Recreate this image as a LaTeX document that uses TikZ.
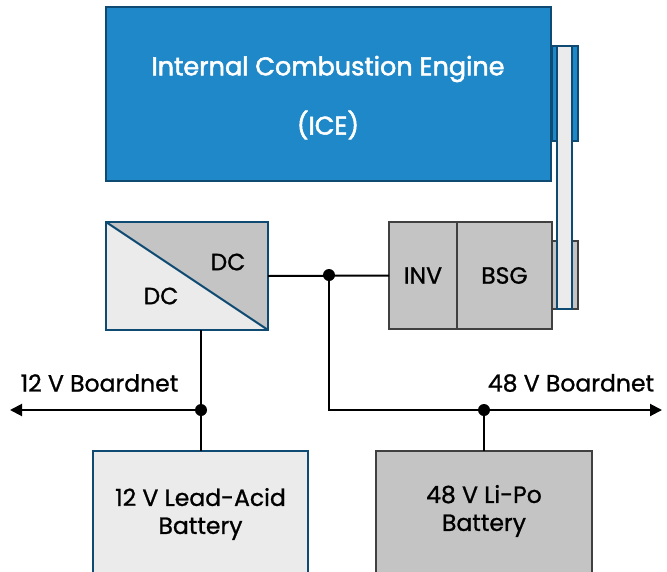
\documentclass[tikz,border=0pt]{standalone}
\usepackage{fontspec}
\setmainfont{Poppins}
\newfontfamily\diagfont{Poppins}[FakeBold=1]
\newfontfamily\icefont{Poppins}[FakeBold=2]
\usetikzlibrary{positioning, arrows.meta}

\definecolor{iceblue}{HTML}{1E88C8}
\definecolor{darkblue}{HTML}{0E4A72}
\definecolor{midgray}{HTML}{C4C4C4}
\definecolor{lightgray}{HTML}{EBEBEB}
\definecolor{darkgray}{HTML}{404040}

\tikzset{
    block/.style={draw, line width=2pt, inner sep=0pt, outer sep=0pt, anchor=north west, align=center, font=\diagfont\fontsize{23.5}{28}\selectfont},
    blueblock/.style={block, draw=darkblue, fill=iceblue},
    grayblock/.style={block, draw=darkgray, fill=midgray},
    lightblock/.style={block, draw=darkblue, fill=lightgray},
    wire/.style={line width=2pt, black},
    dot/.style={circle, fill=black, inner sep=0pt, minimum size=12pt},
    label/.style={font=\diagfont\fontsize{23.5}{28}\selectfont},
    icelabel/.style={font=\icefont\fontsize{25.5}{30}\selectfont, text=white}
}

\begin{document}
\begin{tikzpicture}[x=1pt, y=-1pt]
    \clip (0,0) rectangle (667,571);
    \useasboundingbox (0,0) rectangle (667,571);

    % Engine and belt drive
    \node[blueblock, minimum width=445pt, minimum height=174pt] (ice) at (106,7) {};
    \node[icelabel] (icename) at (328,69) {Internal Combustion Engine};
    \node[icelabel] (iceabbr) at (328,125) {(ICE)};
    \node[blueblock, minimum width=26pt, minimum height=95pt] (icepulley) at (552,46) {};
    \node[grayblock, minimum width=26pt, minimum height=68pt] (bsgpulley) at (552,241) {};
    \node[lightblock, minimum width=15pt, minimum height=263pt] (belt) at (557,46) {};

    % Inverter and belt starter generator
    \node[grayblock, minimum width=68pt, minimum height=107pt] (inv) at (389,222) {INV};
    \node[grayblock, minimum width=95pt, minimum height=107pt] (bsg) at (457,222) {BSG};

    % DC/DC converter
    \node[lightblock, minimum width=162pt, minimum height=108pt,
        path picture={
            \fill[midgray] (path picture bounding box.north west) -- (path picture bounding box.north east) -- (path picture bounding box.south east) -- cycle;
            \draw[darkblue, line width=2pt] (path picture bounding box.north west) -- (path picture bounding box.south east);
        }] (dcdc) at (106,222) {};
    \node[label] (dchigh) at (228,262) {DC};
    \node[label] (dclow) at (161,296) {DC};

    % Batteries
    \node[lightblock, minimum width=215pt, minimum height=150pt] (leadacid) at (93,451) {};
    \node[label, align=center] (leadtext) at (200.5,514) {12 V Lead-Acid\\Battery};
    \node[grayblock, minimum width=216pt, minimum height=150pt] (lipo) at (376,451) {};
    \node[label, align=center] (lipotext) at (484,511) {48 V Li-Po\\Battery};

    % 48 V boardnet
    \node[dot] (j48) at (329,275) {};
    \coordinate (end48) at (662,410);
    \node[dot] (j48b) at (484,410) {};
    \draw[wire] (dcdc.east) -- (inv.west);
    \draw[wire, -{Triangle[length=12pt, width=12pt]}] (j48.center) |- (end48);
    \draw[wire] (j48b.center) -- (j48b |- lipo.north);
    \node[label] (lbl48) at (571,383) {48 V Boardnet};

    % 12 V boardnet
    \node[dot] (j12) at (201,410) {};
    \coordinate (end12) at (10,410);
    \draw[wire] (j12 |- dcdc.south) -- (j12.center) -- (j12 |- leadacid.north);
    \draw[wire, -{Triangle[length=12pt, width=12pt]}] (j12.center) -- (end12);
    \node[label] (lbl12) at (99.5,383) {12 V Boardnet};
\end{tikzpicture}
\end{document}
